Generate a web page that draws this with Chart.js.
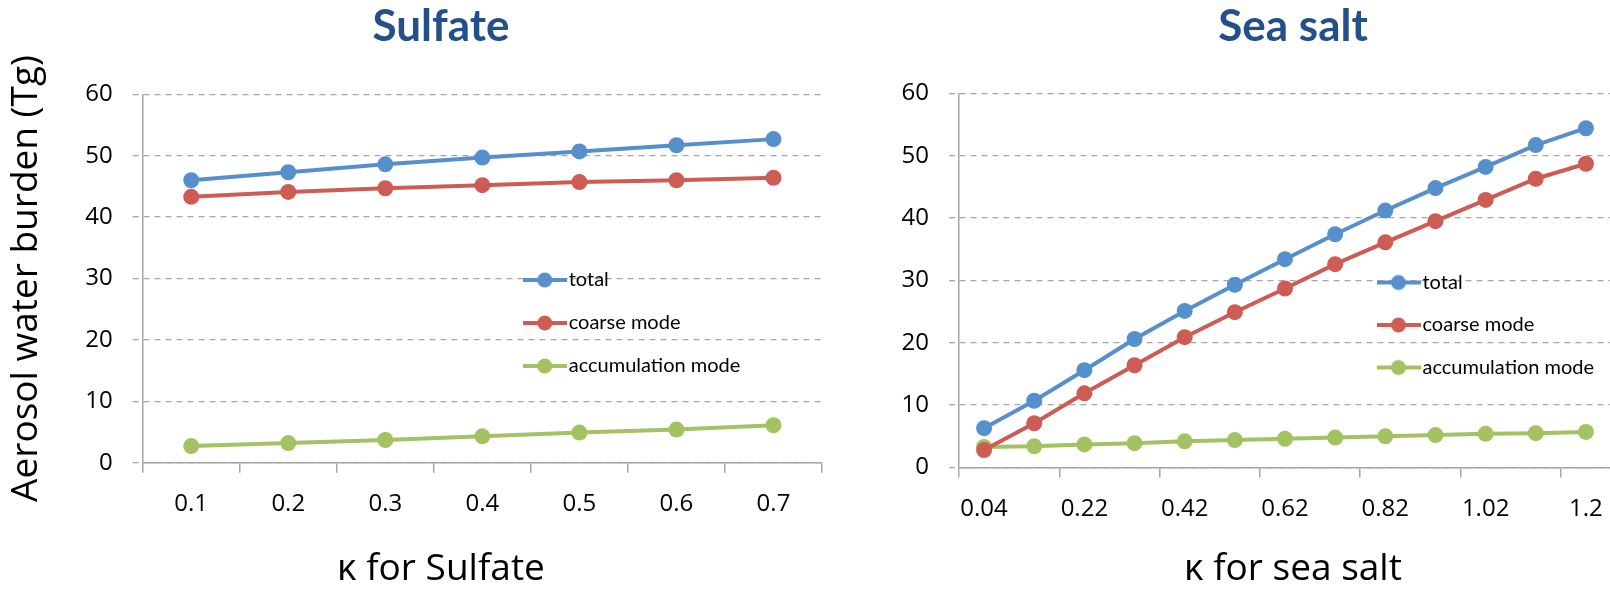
<!DOCTYPE html>
<html>
<head>
<meta charset="utf-8">
<script src="https://cdn.jsdelivr.net/npm/chart.js@4"></script>
<style>
    html, body { margin: 0; padding: 0; background: #fff; overflow: hidden; }
    body { width: 1610px; height: 590px; position: relative; }
    .box { position: absolute; top: 0; height: 590px; }
    #boxSulfate { left: 0; width: 882px; }
    #boxSeaSalt { left: 880px; width: 826px; }
</style>
</head>
<body>
<div class="box" id="boxSulfate"><canvas id="charSulfate" width="882" height="590"></canvas></div>
<div class="box" id="boxSeaSalt"><canvas id="charSeaSalt" width="826" height="590"></canvas></div>
<script>
const seriesNames = ['total', 'coarse mode', 'accumulation mode'];
const seriesColors = ['#5690CC', '#CD5C55', '#A3C262'];
const yTicks = [0, 10, 20, 30, 40, 50, 60];

const kappaSulfate = ['0.1', '0.2', '0.3', '0.4', '0.5', '0.6', '0.7'];
const sulfateTotal = [46.0, 47.3, 48.6, 49.7, 50.7, 51.7, 52.7];
const sulfateCoarse = [43.3, 44.1, 44.7, 45.2, 45.7, 46.0, 46.4];
const sulfateAccum = [2.7, 3.2, 3.7, 4.3, 4.9, 5.4, 6.1];

const kappaSeaSalt = ['0.04', '0.13', '0.22', '0.32', '0.42', '0.52', '0.62', '0.72', '0.82', '0.92', '1.02', '1.12', '1.2'];
const seaSaltTotal = [6.3, 10.7, 15.6, 20.6, 25.1, 29.3, 33.4, 37.4, 41.2, 44.8, 48.2, 51.7, 54.4];
const seaSaltCoarse = [2.8, 7.1, 11.9, 16.4, 20.9, 24.9, 28.7, 32.6, 36.1, 39.5, 42.9, 46.3, 48.7];
const seaSaltAccum = [3.3, 3.4, 3.7, 3.9, 4.2, 4.4, 4.6, 4.8, 5.0, 5.2, 5.4, 5.5, 5.7];

const gray = '#A6A6A6';
const tickFont = { family: 'Open Sans', size: 24 };
const axisTitleFont = { family: 'Open Sans', size: 37, lineHeight: 1 };

// little line + dot picture, like the excel legend
function legendMark(color) {
    const c = document.createElement('canvas');
    c.width = 44;
    c.height = 18;
    const g = c.getContext('2d');
    g.strokeStyle = color;
    g.lineWidth = 4;
    g.beginPath();
    g.moveTo(0, 9);
    g.lineTo(44, 9);
    g.stroke();
    g.fillStyle = color;
    g.beginPath();
    g.arc(22, 9, 7.5, 0, Math.PI * 2);
    g.fill();
    return c;
}
const marks = seriesColors.map(legendMark);

// move the legend box to a fixed spot inside the plot
const placeLegend = {
    id: 'placeLegend',
    afterLayout(chart, args, opts) {
        const lg = chart.legend;
        lg.left = opts.x;
        lg.top = opts.y;
        lg.right = opts.x + lg.width;
        lg.bottom = opts.y + lg.height;
    }
};

function makeDatasets(values) {
    return values.map((data, i) => ({
        label: seriesNames[i],
        data: data,
        borderColor: seriesColors[i],
        backgroundColor: seriesColors[i],
        borderWidth: 4,
        pointRadius: 8,
        pointHoverRadius: 8,
        pointBorderWidth: 0,
        tension: 0
    }));
}

function charOptions(o) {
    return {
        responsive: false,
        animation: false,
        layout: { padding: 0 },
        plugins: {
            title: {
                display: true,
                text: o.title,
                color: '#23508A',
                font: { family: 'Lato', size: 44, weight: 'bold', lineHeight: 1.2 },
                padding: { top: 0, bottom: o.titleGap }
            },
            subtitle: {
                display: true,
                position: 'bottom',
                text: o.xTitle,
                color: '#000',
                font: axisTitleFont,
                padding: { top: 0, bottom: 2 }
            },
            legend: {
                position: 'chartArea',
                align: 'start',
                labels: {
                    usePointStyle: true,
                    pointStyleWidth: 28,
                    padding: o.legendPad,
                    color: '#000',
                    font: { family: 'Lato', size: 20 },
                    generateLabels: chart => Chart.defaults.plugins.legend.labels.generateLabels(chart)
                        .map(l => Object.assign(l, { pointStyle: marks[l.datasetIndex] }))
                }
            },
            placeLegend: o.legendAt,
            tooltip: { enabled: false }
        },
        scales: {
            x: {
                offset: true,
                ticks: {
                    font: tickFont,
                    color: '#000',
                    padding: 17,
                    autoSkip: false,
                    maxRotation: 0,
                    callback: o.xLabel
                },
                grid: {
                    offset: true,
                    drawOnChartArea: false,
                    tickLength: 10,
                    lineWidth: 1.5,
                    color: o.xTickColor
                },
                border: { color: gray, width: 1.5 },
                afterFit: s => { s.height = o.xHeight; }
            },
            y: {
                min: yTicks[0],
                max: yTicks[yTicks.length - 1],
                ticks: { stepSize: yTicks[1] - yTicks[0], font: tickFont, color: '#000', padding: 20 },
                grid: { color: gray, lineWidth: 1.3, tickLength: 10, tickBorderDash: [6, 5] },
                border: { color: gray, width: 1.5, dash: [6, 5] },
                title: o.yTitle,
                afterFit: s => { s.width = o.yWidth; }
            },
            yR: {
                type: 'linear',
                position: 'right',
                ticks: { display: false },
                grid: { display: false },
                border: { display: false },
                afterFit: s => { s.width = o.rightGap; }
            }
        }
    };
}

function charAdmin() {
    const ctxSulfate = document.getElementById('charSulfate');
    const charSulfate = new Chart(ctxSulfate, {
        type: 'line',
        data: {
            labels: kappaSulfate,
            datasets: makeDatasets([sulfateTotal, sulfateCoarse, sulfateAccum])
        },
        options: charOptions({
            title: 'Sulfate',
            titleGap: 41.5,
            xTitle: 'κ for Sulfate',
            xHeight: 88.3,
            yWidth: 142.7,
            rightGap: 60,
            legendPad: 23,
            legendAt: { x: 507.7, y: 247 },
            xLabel: (v, i) => kappaSulfate[i],
            xTickColor: gray,
            yTitle: {
                display: true,
                text: 'Aerosol water burden (Tg)',
                color: '#000',
                font: { family: 'Open Sans', size: 37, lineHeight: 1.2 },
                padding: { top: 4, bottom: 0 }
            }
        }),
        plugins: [placeLegend]
    });

    const ctxSeaSalt = document.getElementById('charSeaSalt');
    const charSeaSalt = new Chart(ctxSeaSalt, {
        type: 'line',
        data: {
            labels: kappaSeaSalt,
            datasets: makeDatasets([seaSaltTotal, seaSaltCoarse, seaSaltAccum])
        },
        options: charOptions({
            title: 'Sea salt',
            titleGap: 40.5,
            xTitle: 'κ for sea salt',
            xHeight: 83.5,
            yWidth: 79,
            rightGap: 95,
            legendPad: 22.5,
            legendAt: { x: 482, y: 250 },
            xLabel: (v, i) => (i % 2 ? '' : kappaSeaSalt[i]),
            xTickColor: c => (c.index % 2 ? 'rgba(0,0,0,0)' : gray),
            yTitle: { display: false }
        }),
        plugins: [placeLegend]
    });
}
charAdmin();
</script>
</body>
</html>
